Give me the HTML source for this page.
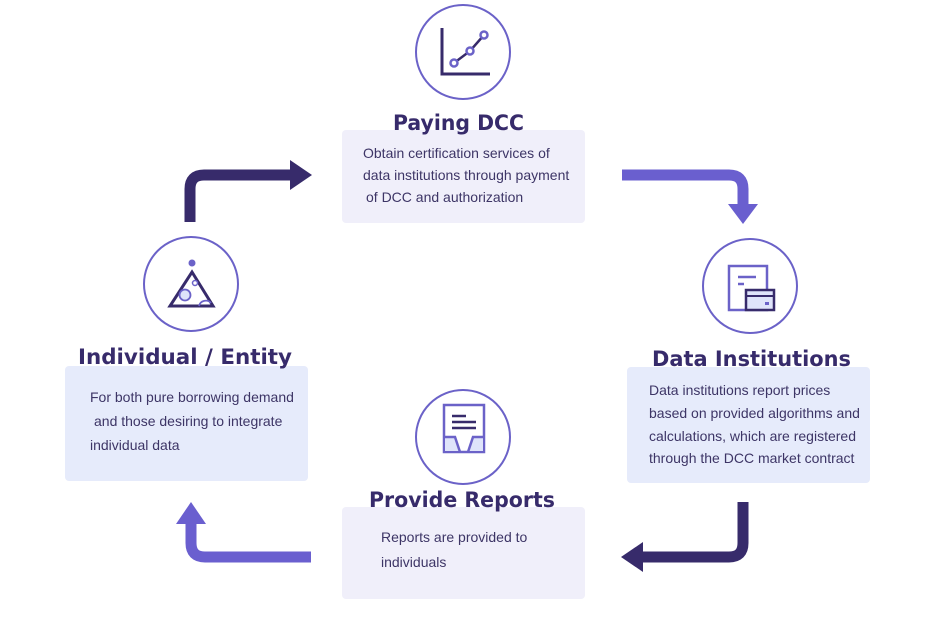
<!DOCTYPE html>
<html><head><meta charset="utf-8"><style>
html,body{margin:0;padding:0;background:#fff;width:947px;height:624px;overflow:hidden}
svg{display:block}
.t{font-family:"DejaVu Sans","Liberation Sans",sans-serif;font-weight:bold;font-size:21px;fill:#372b6b}
.b{font-family:"Liberation Sans",sans-serif;font-size:14px;fill:#3d3566}
</style></head><body>
<svg width="947" height="624" viewBox="0 0 947 624" xmlns="http://www.w3.org/2000/svg">
<rect x="342" y="130" width="243" height="93" rx="4" fill="#f0effa"/>
<rect x="65" y="366" width="243" height="115" rx="4" fill="#e6ebfb"/>
<rect x="627" y="367" width="243" height="116" rx="4" fill="#e6ebfb"/>
<rect x="342" y="507" width="243" height="92" rx="4" fill="#f0effa"/>

<g fill="#fff" stroke="#6b62c8" stroke-width="2">
<circle cx="463" cy="52" r="47"/>
<circle cx="191" cy="284" r="47"/>
<circle cx="750" cy="286" r="47"/>
<circle cx="463" cy="437" r="47"/>
</g>

<g>
<path d="M442 28 V74 H490" fill="none" stroke="#372b6b" stroke-width="3"/>
<path d="M454 63 L470 51 L484 35" fill="none" stroke="#372b6b" stroke-width="2.5"/>
<g fill="#fff" stroke="#6b62c8" stroke-width="2.5">
<circle cx="454" cy="63" r="3.5"/><circle cx="470" cy="51" r="3.5"/><circle cx="484" cy="35" r="3.5"/>
</g>
</g>

<g>
<circle cx="192" cy="263" r="3.5" fill="#6b62c8"/>
<path d="M192 272 L213 306 L170 306 Z" fill="none" stroke="#372b6b" stroke-width="3"/>
<circle cx="185" cy="295" r="5.5" fill="#dfe4fa" stroke="#6b62c8" stroke-width="1.8"/>
<circle cx="195" cy="283" r="2.5" fill="#fff" stroke="#6b62c8" stroke-width="1.5"/>
<path d="M199 306 A7 7 0 0 1 211 303" fill="none" stroke="#6b62c8" stroke-width="1.8"/>
</g>

<g>
<rect x="729" y="266" width="38" height="44" fill="#fff" stroke="#6b62c8" stroke-width="2.5"/>
<line x1="738" y1="277" x2="756" y2="277" stroke="#6b62c8" stroke-width="2.5"/>
<line x1="738" y1="284" x2="744" y2="284" stroke="#6b62c8" stroke-width="2.5"/>
<rect x="746" y="290" width="28" height="20" fill="#dfe4fa" stroke="#372b6b" stroke-width="2.5"/>
<line x1="746" y1="296" x2="774" y2="296" stroke="#372b6b" stroke-width="2"/>
<rect x="765" y="302" width="4" height="3" fill="#6b62c8"/>
</g>

<g>
<rect x="444" y="405" width="40" height="47" fill="#fff" stroke="#6b62c8" stroke-width="2.5"/>
<path d="M445 437 H455 L460 451 H445 Z M483 437 H473 L468 451 H483 Z" fill="#dfe4fa"/>
<path d="M444 437 H455 L460 452 M484 437 H473 L468 452" fill="none" stroke="#6b62c8" stroke-width="2.5"/>
<g stroke="#372b6b" stroke-width="2.5">
<line x1="452" y1="416" x2="466" y2="416"/>
<line x1="452" y1="422" x2="476" y2="422"/>
<line x1="452" y1="428" x2="476" y2="428"/>
</g>
</g>

<path d="M190 222 V189 Q190 175 204 175 H292" fill="none" stroke="#372b6b" stroke-width="11"/>
<path d="M290 160 L312 175 L290 190 Z" fill="#372b6b"/>

<path d="M622 175 H729 Q743 175 743 189 V206" fill="none" stroke="#6a5fcf" stroke-width="11"/>
<path d="M728 204 L758 204 L743 224 Z" fill="#6a5fcf"/>

<path d="M743 502 V543 Q743 557 729 557 H642" fill="none" stroke="#372b6b" stroke-width="11"/>
<path d="M643 542 L621 557 L643 572 Z" fill="#372b6b"/>

<path d="M311 557 H205 Q191 557 191 543 V522" fill="none" stroke="#6a5fcf" stroke-width="11"/>
<path d="M176 524 L191 502 L206 524 Z" fill="#6a5fcf"/>

<text class="t" x="393" y="130" textLength="131" lengthAdjust="spacingAndGlyphs">Paying DCC</text>
<text class="t" x="78" y="364" textLength="214" lengthAdjust="spacingAndGlyphs">Individual / Entity</text>
<text class="t" x="652" y="366" textLength="199" lengthAdjust="spacingAndGlyphs">Data Institutions</text>
<text class="t" x="369" y="507" textLength="186" lengthAdjust="spacingAndGlyphs">Provide Reports</text>

<text class="b" x="363" y="158">Obtain certification services of</text>
<text class="b" x="363" y="180">data institutions through payment</text>
<text class="b" x="366" y="202">of DCC and authorization</text>

<text class="b" x="90" y="402">For both pure borrowing demand</text>
<text class="b" x="94" y="426">and those desiring to integrate</text>
<text class="b" x="90" y="450">individual data</text>

<text class="b" x="649" y="395">Data institutions report prices</text>
<text class="b" x="649" y="418">based on provided algorithms and</text>
<text class="b" x="649" y="441">calculations, which are registered</text>
<text class="b" x="649" y="463">through the DCC market contract</text>

<text class="b" x="381" y="542">Reports are provided  to</text>
<text class="b" x="381" y="567">individuals</text>
</svg>
</body></html>
